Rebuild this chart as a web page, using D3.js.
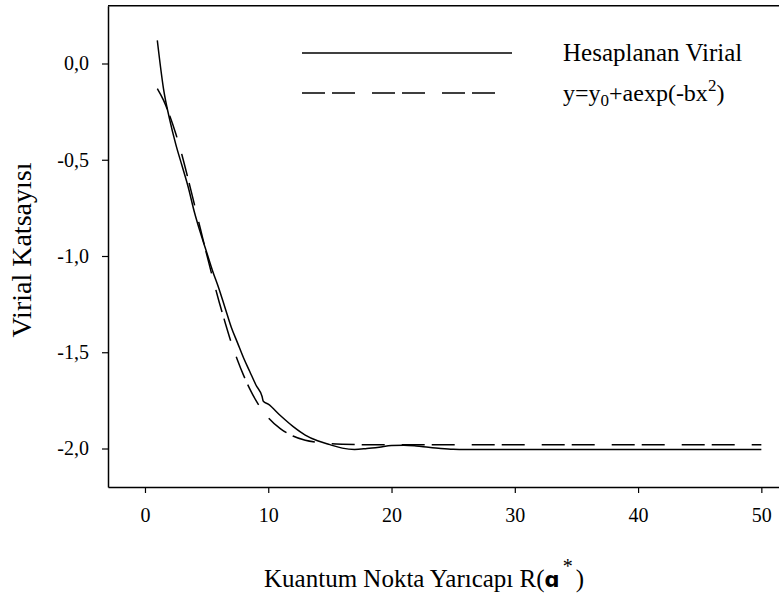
<!DOCTYPE html>
<html>
<head>
<meta charset="utf-8">
<script src="https://cdn.jsdelivr.net/npm/d3@7"></script>
<style>
  html, body { margin: 0; padding: 0; background: #fff; overflow: hidden; }
  text { font-family: "Liberation Serif", "Times New Roman", serif; fill: #000; }
</style>
</head>
<body>
<svg id="chart" width="779" height="594"></svg>
<script>
// ---- data ----
const xTicks = [0, 10, 20, 30, 40, 50];
const yTicks = [0.0, -0.5, -1.0, -1.5, -2.0];

// "Hesaplanan Virial" (solid)
const calcX = [1, 1.5, 2, 2.5, 3, 3.5, 4, 4.5, 5, 5.5, 6, 6.5, 7, 7.5, 8, 8.5, 9, 9.5, 9.6, 10, 11, 12, 13, 14, 15, 16, 17, 18, 19, 20, 21, 22, 23, 24, 25, 26, 30, 35, 40, 45, 50];
const calcY = [0.12, -0.13, -0.29, -0.42, -0.53, -0.64, -0.77, -0.88, -0.98, -1.08, -1.17, -1.27, -1.37, -1.45, -1.53, -1.60, -1.67, -1.73, -1.755, -1.77, -1.83, -1.885, -1.93, -1.96, -1.98, -1.998, -2.005, -2.0, -1.993, -1.985, -1.983, -1.987, -1.994, -2.0, -2.004, -2.005, -2.005, -2.005, -2.005, -2.005, -2.005];

// fit y = y0 + a exp(-b x^2) (dashed)
const fitX = [1, 1.5, 2, 2.5, 3, 3.5, 4, 4.5, 5, 5.5, 6, 6.5, 7, 7.5, 8, 8.5, 9, 9.5, 10, 11, 12, 13, 14, 15, 16, 18, 20, 30, 40, 50];
const fitY = [-0.13, -0.19, -0.27, -0.365, -0.475, -0.60, -0.73, -0.86, -0.99, -1.115, -1.235, -1.345, -1.45, -1.54, -1.62, -1.69, -1.75, -1.80, -1.84, -1.898, -1.935, -1.957, -1.968, -1.975, -1.978, -1.98, -1.98, -1.98, -1.98, -1.98];

const legendLabels = ["Hesaplanan Virial", "y=y0+aexp(-bx2)"];

// ---- drawing ----
const svg = d3.select("#chart");
const x = d3.scaleLinear().domain([-3, 52]).range([108, 786]);
const y = d3.scaleLinear().domain([-2.2, 0.3]).range([487, 5.75]);

const dashPattern = "23,7,23,17";

// top frame line
svg.append("line")
  .attr("x1", x(-3)).attr("x2", x(52))
  .attr("y1", y(0.3)).attr("y2", y(0.3))
  .attr("stroke", "#000").attr("stroke-width", 1.5);

const xAxis = svg.append("g")
  .attr("transform", `translate(0,${y(-2.2)})`)
  .call(d3.axisBottom(x).tickValues(xTicks).tickSize(6).tickSizeOuter(0).tickPadding(15)
    .tickFormat(d => String(d)));
const yAxis = svg.append("g")
  .attr("transform", `translate(${x(-3)},0)`)
  .call(d3.axisLeft(y).tickValues(yTicks).tickSize(6).tickSizeOuter(0).tickPadding(13)
    .tickFormat(d => d.toFixed(1).replace(".", ",")));

[xAxis, yAxis].forEach(g => {
  g.select(".domain").attr("stroke", "#000").attr("stroke-width", 1.5);
  g.selectAll(".tick line").attr("stroke", "#000").attr("stroke-width", 1.2);
  g.selectAll(".tick text")
    .style("font-family", "'Liberation Serif', serif")
    .style("font-size", "20px").attr("fill", "#000");
});

// lines
const line = d3.line().x(d => x(d[0])).y(d => y(d[1])).curve(d3.curveMonotoneX);
const calcData = calcX.map((v, i) => [v, calcY[i]]);
const fitData = fitX.map((v, i) => [v, fitY[i]]);

svg.append("path").datum(calcData)
  .attr("d", line).attr("fill", "none").attr("stroke", "#000").attr("stroke-width", 1.5);
svg.append("path").datum(fitData)
  .attr("d", line).attr("fill", "none").attr("stroke", "#000").attr("stroke-width", 1.5)
  .attr("stroke-dasharray", dashPattern);

// legend
const lg = svg.append("g");
lg.append("line").attr("x1", 302).attr("x2", 512).attr("y1", 53).attr("y2", 53)
  .attr("stroke", "#000").attr("stroke-width", 1.5);
lg.append("line").attr("x1", 302).attr("x2", 512).attr("y1", 93).attr("y2", 93)
  .attr("stroke", "#000").attr("stroke-width", 1.5).attr("stroke-dasharray", dashPattern);
lg.append("text").attr("x", 563).attr("y", 61).style("font-size", "25px").text(legendLabels[0]);
const t2 = lg.append("text").attr("x", 563).attr("y", 101).style("font-size", "24px");
t2.append("tspan").text("y=y");
t2.append("tspan").attr("dy", 5).style("font-size", "17px").text("0");
t2.append("tspan").attr("dy", -5).text("+aexp(-bx");
t2.append("tspan").attr("dy", -10).style("font-size", "17px").text("2");
t2.append("tspan").attr("dy", 10).text(")");

// axis titles
svg.append("text")
  .attr("transform", "translate(31,250) rotate(-90)")
  .attr("text-anchor", "middle")
  .style("font-size", "28px")
  .text("Virial Katsayısı");

const xt = svg.append("text").attr("x", 424).attr("y", 587).attr("text-anchor", "middle")
  .style("font-size", "25px");
xt.append("tspan").text("Kuantum Nokta Yarıcapı R(");
xt.append("tspan").style("font-family", "'DejaVu Sans', sans-serif").style("font-weight", "bold")
  .style("font-size", "21px").text("ɑ");
xt.append("tspan").attr("dy", -14).attr("dx", 3).style("font-size", "20px").text("*");
xt.append("tspan").attr("dy", 14).attr("dx", 3).text(")");
</script>
</body>
</html>
